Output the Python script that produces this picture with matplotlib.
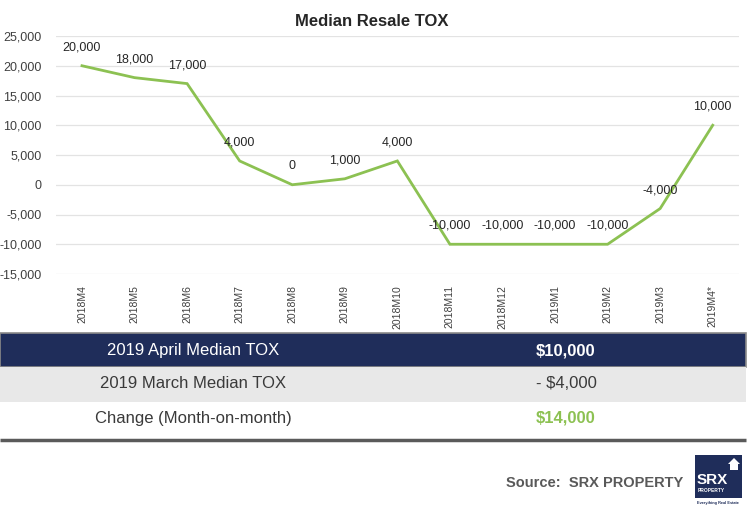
import matplotlib.pyplot as plt
from matplotlib.patches import Rectangle, Polygon

# chart data
months = ['2018M4', '2018M5', '2018M6', '2018M7', '2018M8', '2018M9', '2018M10',
          '2018M11', '2018M12', '2019M1', '2019M2', '2019M3', '2019M4*']
tox = [20000, 18000, 17000, 4000, 0, 1000, 4000,
       -10000, -10000, -10000, -10000, -4000, 10000]
yticks = [-15000, -10000, -5000, 0, 5000, 10000, 15000, 20000, 25000]

# summary table
row_labels = ['2019 April Median TOX', '2019 March Median TOX', 'Change (Month-on-month)']
row_values = ['$10,000', '- $4,000', '$14,000']

plt.rcParams['font.family'] = ['Liberation Sans', 'DejaVu Sans']

W, H = 750, 509
fig = plt.figure(figsize=(W / 100, H / 100), dpi=100)

# full-figure pixel canvas for the table and footer
bg = fig.add_axes([0, 0, 1, 1])
bg.set_xlim(0, W)
bg.set_ylim(H, 0)
bg.axis('off')

# line chart
ax = fig.add_axes([55.7 / W, 1 - 274 / H, (739 - 55.7) / W, (274 - 36) / H])
x = list(range(len(months)))
ax.plot(x, tox, color='#8cc152', linewidth=2.0, solid_joinstyle='miter')
for xi, v in zip(x, tox):
    ax.annotate(f'{v:,}', (xi, v), xytext=(0, 9), textcoords='offset points',
                ha='center', va='bottom', fontsize=9, color='#262626')
ax.set_xlim(-0.5, len(months) - 0.5)
ax.set_ylim(-15000, 25000)
ax.set_yticks(yticks)
ax.set_yticklabels([f'{t:,}' for t in yticks])
ax.set_xticks(x)
ax.set_xticklabels(months, rotation=90, va='top')
ax.tick_params(length=0, labelsize=9, colors='#404040')
ax.tick_params(axis='x', labelsize=7.5, pad=8)
ax.tick_params(axis='y', pad=10)
ax.grid(axis='y', color='#e3e3e3', linewidth=0.9)
ax.set_axisbelow(True)
for s in ax.spines.values():
    s.set_visible(False)
ax.patch.set_alpha(0)
fig.text(372 / W, 1 - 22 / H, 'Median Resale TOX', ha='center', va='center',
         fontsize=12, fontweight='bold', color='#262626')

# table rows
bg.add_patch(Rectangle((0, 333), 746, 34, facecolor='#1f2d5a', edgecolor='#8a8a8a', linewidth=1.2))
bg.add_patch(Rectangle((0, 367), 746, 35, facecolor='#e8e8e8', edgecolor='none'))
bg.plot([0, 746], [440, 440], color='#5a5a5a', linewidth=2.5, solid_capstyle='butt')
row_y = [351, 383, 418]
label_colors = ['white', '#3a3a3a', '#3a3a3a']
value_colors = ['white', '#3a3a3a', '#8cc152']
value_weights = ['bold', 'normal', 'bold']
for lab, val, yy, lc, vc, vw in zip(row_labels, row_values, row_y, label_colors,
                                    value_colors, value_weights):
    bg.text(193, yy, lab, ha='center', va='center', fontsize=12, color=lc)
    bg.text(566, yy, val, ha='center', va='center', fontsize=12, color=vc, fontweight=vw)

# footer
bg.text(683, 483, 'Source:  SRX PROPERTY', ha='right', va='center', fontsize=10.5,
        fontweight='bold', color='#595959')
bg.add_patch(Rectangle((695, 455), 47, 43, facecolor='#1f2d5a', edgecolor='none'))
bg.add_patch(Polygon([[728, 464], [734, 458], [740, 464], [738, 464], [738, 470],
                      [730, 470], [730, 464]], closed=True, facecolor='white'))
bg.text(697, 480, 'SRX', ha='left', va='center', fontsize=11, fontweight='bold', color='white')
bg.text(698, 491, 'PROPERTY', ha='left', va='center', fontsize=3.5, fontweight='bold', color='white')
bg.text(718, 503, 'Everything Real Estate', ha='center', va='center', fontsize=2.8,
        fontweight='bold', color='#1f2d5a')

fig.savefig('out.png', dpi=100)
